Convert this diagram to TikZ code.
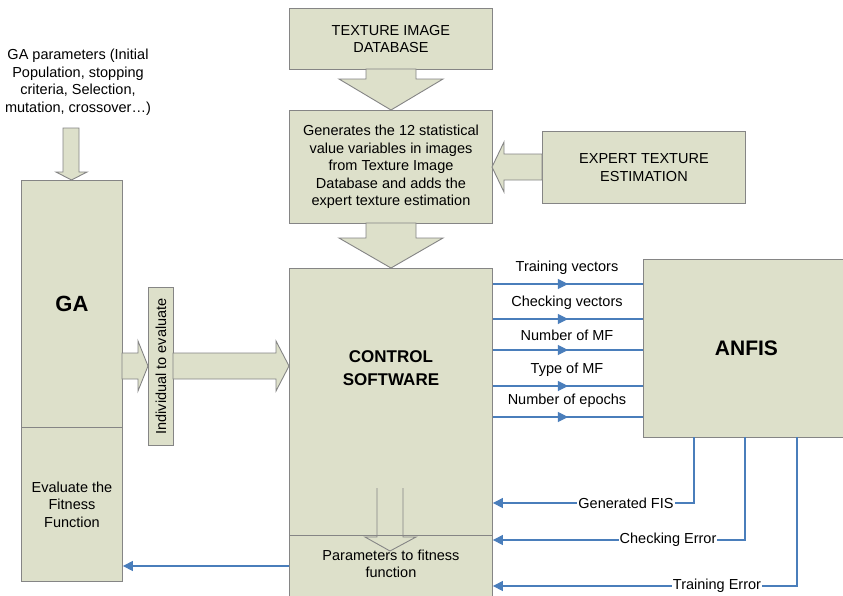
\documentclass[tikz,border=0pt]{standalone}
\usepackage{fontspec}
\setmainfont{Liberation Sans}
\usetikzlibrary{arrows.meta,decorations.markings,calc}
\definecolor{boxfill}{HTML}{DDE0CA}
\definecolor{boxline}{HTML}{858585}
\definecolor{flow}{HTML}{4A7EBB}
\begin{document}
\begin{tikzpicture}[x=1pt,y=-1pt,
  box/.style={draw=boxline,fill=boxfill,line width=0.9pt,inner sep=0pt,anchor=north west,
    align=center,font=\fontsize{14.5}{17.5}\selectfont},
  barrow/.style={draw=boxline,fill=boxfill,line width=0.9pt,line join=miter},
  txt/.style={font=\fontsize{14.5}{17.5}\selectfont,align=center,inner sep=0pt},
  bigtxt/.style={font=\fontsize{21}{24}\selectfont\bfseries,align=center,inner sep=0pt},
  flowline/.style={draw=flow,line width=1.1pt},
  midarrow/.style={postaction={decorate},decoration={markings,
    mark=at position 0.5 with {\arrow{Triangle[length=10pt,width=10pt]}}}},
  endarrow/.style={-{Triangle[length=10pt,width=10pt]}},
  lbl/.style={txt,fill=white,inner xsep=1pt,inner ysep=1pt}
]
\clip (0,0) rectangle (843,595);
\fill[white] (0,0) rectangle (843,595);

% parameters text
\node[txt] (params) at (78,82) {GA parameters (Initial\\Population, stopping\\criteria, Selection,\\mutation, crossover\ldots)};

% boxes
\node[box,minimum width=101pt,minimum height=247pt,font=\fontsize{22}{26}\selectfont\bfseries] (ga) at (21,180) {GA};
\node[box,minimum width=101pt,minimum height=154pt] (gab) at (21,427) {Evaluate the\\Fitness\\Function};
\node[box,minimum width=25pt,minimum height=158pt] (ind) at (148,287) {};
\node[txt,rotate=90] at (ind.center) {Individual to evaluate};

\node[box,minimum width=203pt,minimum height=61pt] (db) at (289,8) {TEXTURE IMAGE\\DATABASE};
\node[box,minimum width=203pt,minimum height=113pt] (gen) at (289,110) {Generates the 12 statistical\\value variables in images\\from Texture Image\\Database and adds the\\expert texture estimation};
\node[box,minimum width=203pt,minimum height=72pt] (expert) at (542,131) {EXPERT TEXTURE\\ESTIMATION};

\node[box,minimum width=203pt,minimum height=267pt] (ctrl) at (289,268) {};
\node[box,minimum width=203pt,minimum height=80pt] (ctrlb) at (289,535) {};
\node[bigtxt,font=\fontsize{17}{23}\selectfont\bfseries] at ($(ctrl.north)+(0,100)$) {CONTROL\\SOFTWARE};
\node[txt] at ($(ctrlb.north)+(0,29)$) {Parameters to fitness\\function};

\node[box,minimum width=206pt,minimum height=178pt,font=\fontsize{21}{24}\selectfont\bfseries] (anfis) at (643,259) {ANFIS};

% block arrows
\draw[barrow] (63,128) -- (79,128) -- (79,172) -- (87,172) -- (71.5,180) -- (56,172) -- (63,172) -- cycle;
\draw[barrow] (122,353) -- (138,353) -- (138,341) -- (148,366) -- (138,391) -- (138,379) -- (122,379) -- cycle;
\draw[barrow] (173,353) -- (276,353) -- (276,341) -- (289,366) -- (276,391) -- (276,379) -- (173,379) -- cycle;
\draw[barrow] (366,69) -- (416,69) -- (416,79) -- (443,79) -- (391,110) -- (339,79) -- (366,79) -- cycle;
\draw[barrow] (366,223) -- (416,223) -- (416,238) -- (443,238) -- (391,268) -- (339,238) -- (366,238) -- cycle;
\draw[barrow] (542,154) -- (504,154) -- (504,142) -- (492,167) -- (504,192) -- (504,180) -- (542,180) -- cycle;
% inner arrow in control software
\fill[boxfill] (377,488) -- (377,537) -- (365,537) -- (390,551) -- (416,537) -- (403,537) -- (403,488) -- cycle;
\draw[boxline,line width=0.9pt] (377,488) -- (377,537) -- (365,537) -- (390,551) -- (416,537) -- (403,537) -- (403,488);
\draw[boxline,line width=0.9pt] (ctrlb.north west) -- (ctrlb.north east);

% input lines to ANFIS
\foreach \yy/\tt/\ly in {284/Training vectors/268, 319/Checking vectors/303, 350/Number of MF/335, 386/Type of MF/370, 417/Number of epochs/401}{
  \draw[flowline,midarrow] (ctrl.east |- 0,\yy) -- (anfis.west |- 0,\yy);
  \node[txt] at (567,\ly) {\tt};
}

% feedback lines
\draw[flowline,endarrow] (694,437) |- (ctrl.east |- 0,503);
\draw[flowline,endarrow] (745,437) |- (ctrl.east |- 0,540);
\draw[flowline,endarrow] (797,437) |- (ctrl.east |- 0,586);
\node[lbl] at (626,503) {Generated FIS};
\node[lbl] at (668,540) {Checking Error};
\node[lbl] at (717,586) {Training Error};

% to fitness evaluation
\draw[flowline,endarrow] (ctrlb.west |- 0,566) -- (gab.east |- 0,566);
\end{tikzpicture}
\end{document}
